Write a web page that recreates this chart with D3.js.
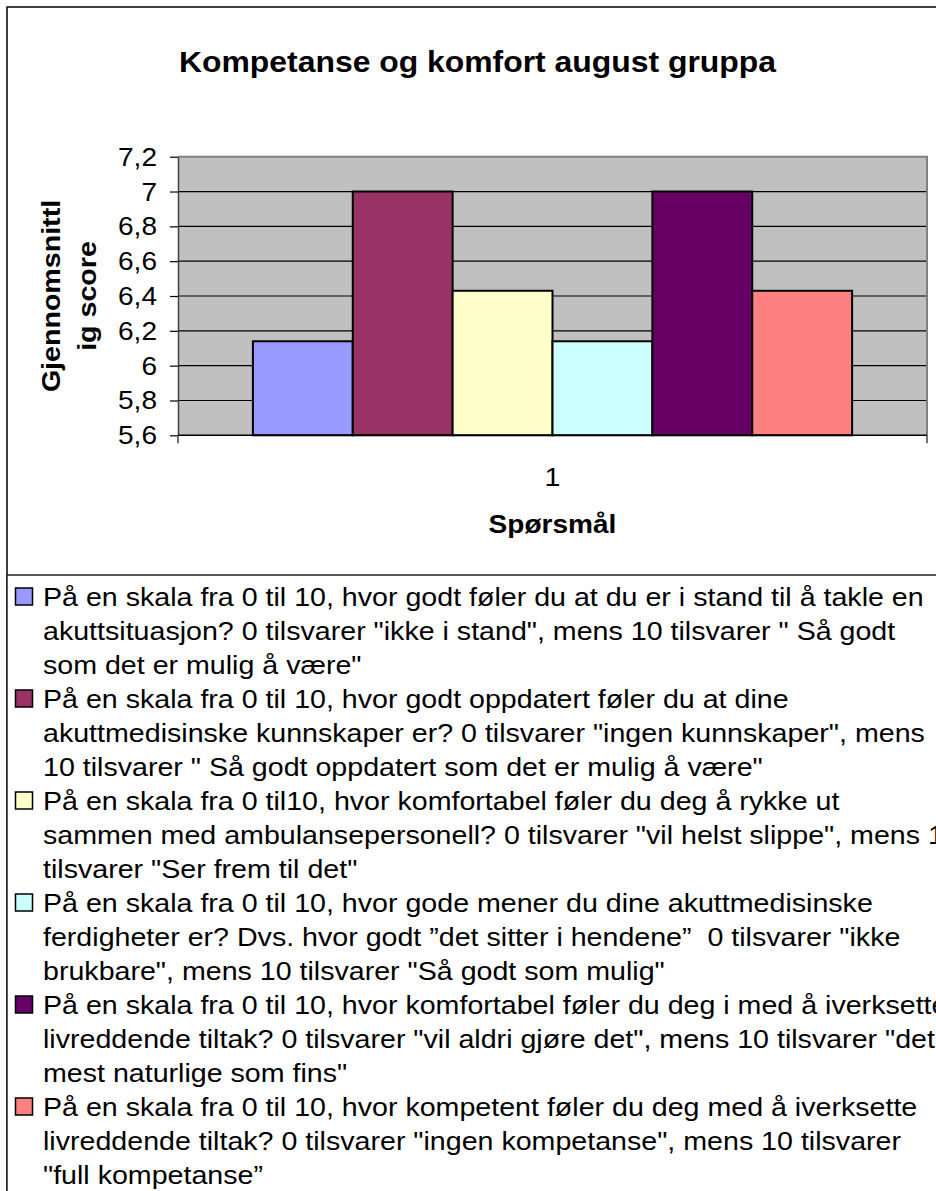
<!DOCTYPE html>
<html>
<head>
<meta charset="utf-8">
<script src="https://cdn.jsdelivr.net/npm/d3@7"></script>
<style>
  html, body { margin: 0; padding: 0; background: #ffffff; }
  svg { display: block; }
  text { font-family: "Liberation Sans", Arial, Helvetica, sans-serif; fill: #000; white-space: pre; }
</style>
</head>
<body>
<div id="chart"></div>
<script>
// ---- data ----
const chartTitle = "Kompetanse og komfort august gruppa";
const yAxisTitle = ["Gjennomsnittl", "ig score"];
const xAxisTitle = "Spørsmål";
const categories = ["1"];
const seriesValues = [6.14, 7.0, 6.43, 6.14, 7.0, 6.43];
const seriesColors = ["#9999FF", "#993366", "#FFFFCC", "#CCFFFF", "#660066", "#FF8080"];
const yTicks = [5.6, 5.8, 6.0, 6.2, 6.4, 6.6, 6.8, 7.0, 7.2];
const yTickLabels = ["5,6", "5,8", "6", "6,2", "6,4", "6,6", "6,8", "7", "7,2"];
const seriesNames = [
  ["På en skala fra 0 til 10, hvor godt føler du at du er i stand til å takle en",
   "akuttsituasjon? 0 tilsvarer \"ikke i stand\", mens 10 tilsvarer \" Så godt",
   "som det er mulig å være\""],
  ["På en skala fra 0 til 10, hvor godt oppdatert føler du at dine",
   "akuttmedisinske kunnskaper er? 0 tilsvarer \"ingen kunnskaper\", mens",
   "10 tilsvarer \" Så godt oppdatert som det er mulig å være\""],
  ["På en skala fra 0 til10, hvor komfortabel føler du deg å rykke ut",
   "sammen med ambulansepersonell? 0 tilsvarer \"vil helst slippe\", mens 10",
   "tilsvarer \"Ser frem til det\""],
  ["På en skala fra 0 til 10, hvor gode mener du dine akuttmedisinske",
   "ferdigheter er? Dvs. hvor godt ”det sitter i hendene”  0 tilsvarer \"ikke",
   "brukbare\", mens 10 tilsvarer \"Så godt som mulig\""],
  ["På en skala fra 0 til 10, hvor komfortabel føler du deg i med å iverksette",
   "livreddende tiltak? 0 tilsvarer \"vil aldri gjøre det\", mens 10 tilsvarer \"det",
   "mest naturlige som fins\""],
  ["På en skala fra 0 til 10, hvor kompetent føler du deg med å iverksette",
   "livreddende tiltak? 0 tilsvarer \"ingen kompetanse\", mens 10 tilsvarer",
   "\"full kompetanse”"]
];

// ---- layout ----
const W = 936, H = 1191;
const plot = { left: 178, right: 927, top: 156.7, bottom: 435.3 };
const legendTop = 575;
const SX = 1.1;           // horizontal glyph stretch of the rendered text

const svg = d3.select("#chart").append("svg")
  .attr("width", W).attr("height", H);

// helper: text with a horizontal stretch along its reading direction
function label(parent, str, x, y, opts = {}) {
  const rot = opts.rotate ? ` rotate(${opts.rotate})` : "";
  return parent.append("text")
    .attr("transform", `translate(${x},${y})${rot} scale(${opts.sx || SX},1)`)
    .attr("text-anchor", opts.anchor || "start")
    .attr("font-size", opts.size || 26)
    .attr("font-weight", opts.bold ? "bold" : "normal")
    .text(str);
}

// outer chart frame
svg.append("rect")
  .attr("x", 7).attr("y", 7)
  .attr("width", W).attr("height", H)
  .attr("fill", "#fff").attr("stroke", "#000").attr("stroke-width", 1.5);

// title
label(svg, chartTitle, 477.5, 72, { anchor: "middle", size: 29, bold: true });

// scales
const y = d3.scaleLinear().domain([5.6, 7.2]).range([plot.bottom, plot.top]);
const x0 = d3.scaleBand().domain(categories).range([plot.left, plot.right]).padding(0);
const x1 = d3.scaleBand().domain(d3.range(seriesValues.length))
  .range([0, x0.bandwidth()]).paddingInner(0).paddingOuter(0.75);

// plot area background
svg.append("rect")
  .attr("x", plot.left).attr("y", plot.top)
  .attr("width", plot.right - plot.left).attr("height", plot.bottom - plot.top)
  .attr("fill", "#C0C0C0");

// gridlines
svg.append("g").selectAll("line")
  .data(yTicks.filter(t => t > 5.6 && t < 7.2))
  .join("line")
  .attr("x1", plot.left).attr("x2", plot.right)
  .attr("y1", d => y(d)).attr("y2", d => y(d))
  .attr("stroke", "#000").attr("stroke-width", 1.2);

// plot area border (top / right)
svg.append("path")
  .attr("d", `M${plot.left},${plot.top}H${plot.right}V${plot.bottom}`)
  .attr("fill", "none").attr("stroke", "#808080").attr("stroke-width", 2);

// bars
const groups = svg.append("g").selectAll("g")
  .data(categories).join("g")
  .attr("transform", d => `translate(${x0(d)},0)`);
groups.selectAll("rect")
  .data(() => seriesValues.map((v, i) => ({ v, i })))
  .join("rect")
  .attr("x", d => x1(d.i))
  .attr("width", x1.bandwidth())
  .attr("y", d => y(d.v))
  .attr("height", d => y(5.6) - y(d.v))
  .attr("fill", d => seriesColors[d.i])
  .attr("stroke", "#000").attr("stroke-width", 2);

// y axis
const yAxis = d3.axisLeft(y).tickValues(yTicks)
  .tickFormat((d, i) => yTickLabels[i]).tickSize(8).tickSizeOuter(0);
const yg = svg.append("g").attr("transform", `translate(${plot.left},0)`).call(yAxis);
yg.select(".domain").attr("stroke", "#404040").attr("stroke-width", 1.5);
yg.selectAll(".tick line").attr("stroke", "#000").attr("stroke-width", 1.2);
yg.selectAll(".tick text").remove();
yTicks.forEach((t, i) => {
  label(svg, yTickLabels[i], 157, y(t) + 9, { anchor: "end", size: 25.5 });
});

// x axis
const xg = svg.append("g").attr("transform", `translate(0,${plot.bottom})`);
xg.append("line")
  .attr("x1", plot.left).attr("x2", plot.right)
  .attr("stroke", "#000").attr("stroke-width", 1.5);
xg.selectAll(".xtick")
  .data([plot.left, plot.right]).join("line")
  .attr("x1", d => d).attr("x2", d => d)
  .attr("y1", 0).attr("y2", 8)
  .attr("stroke", "#404040").attr("stroke-width", 1.5);
categories.forEach(c => {
  label(svg, c, x0(c) + x0.bandwidth() / 2, 486, { anchor: "middle", size: 26 });
});

// axis titles
label(svg, xAxisTitle, (plot.left + plot.right) / 2, 533, { anchor: "middle", size: 25.5, bold: true });
const yMid = (plot.top + plot.bottom) / 2;
label(svg, yAxisTitle[0], 60, yMid, { anchor: "middle", size: 26, bold: true, rotate: -90 });
label(svg, yAxisTitle[1], 95.5, yMid, { anchor: "middle", size: 26, bold: true, rotate: -90 });

// legend box
svg.append("rect")
  .attr("x", 7).attr("y", legendTop)
  .attr("width", W).attr("height", H)
  .attr("fill", "#fff").attr("stroke", "#222").attr("stroke-width", 1.5);

const lineStep = 34, firstBase = 606;
seriesNames.forEach((lines, i) => {
  const base = firstBase + i * 3 * lineStep;
  svg.append("rect")
    .attr("x", 15.5).attr("y", base - 18)
    .attr("width", 17).attr("height", 17)
    .attr("fill", seriesColors[i]).attr("stroke", "#000").attr("stroke-width", 1.5);
  lines.forEach((ln, j) => {
    label(svg, ln, 43, base + j * lineStep, { size: 26 });
  });
});
</script>
</body>
</html>
